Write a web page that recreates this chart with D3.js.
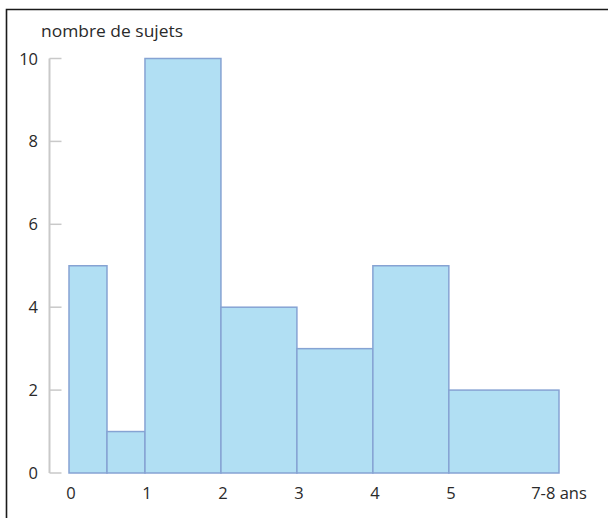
<!DOCTYPE html>
<html>
<head>
<meta charset="utf-8">
<script src="https://cdn.jsdelivr.net/npm/d3@7"></script>
<style>
  body { margin: 0; background: #fff; }
  svg { display: block; font-family: "Open Sans", "DejaVu Sans", sans-serif; }
</style>
</head>
<body>
<div id="chart"></div>
<script>
// histogram: number of subjects per age bin (years)
const binStarts = [0, 0.5, 1, 2, 3, 4, 5];
const binEnds = [0.5, 1, 2, 3, 4, 5, 6.45];
const counts = [5, 1, 10, 4, 3, 5, 2];
const xTicks = [0, 1, 2, 3, 4, 5, 6.45];
const xTickLabels = ['0', '1', '2', '3', '4', '5', '7-8 ans'];
const yTicks = [0, 2, 4, 6, 8, 10];
const yTitle = 'nombre de sujets';

const width = 608, height = 518;
const svg = d3.select('#chart').append('svg').attr('width', width).attr('height', height);

// frame (only top and left edges are visible in the crop)
svg.append('path')
  .attr('d', `M${width + 5},9.5 H6.5 V${height + 5}`)
  .attr('fill', 'none').attr('stroke', '#1a1a1a').attr('stroke-width', 1.6);

const x = d3.scaleLinear().domain([0, 6.45]).range([69, 559]);
const y = d3.scaleLinear().domain([0, 10]).range([473, 58.5]);

const bins = counts.map((c, i) => ({ x0: binStarts[i], x1: binEnds[i], n: c }));

// y axis: gray line with right-pointing ticks
const yAxis = svg.append('g').attr('transform', 'translate(49.5,0)');
yAxis.append('line')
  .attr('y1', y(10)).attr('y2', y(0))
  .attr('stroke', '#c9c9c9').attr('stroke-width', 2);
yAxis.selectAll('line.tick').data(yTicks).join('line')
  .attr('class', 'tick')
  .attr('x1', 0).attr('x2', 12)
  .attr('y1', d => y(d)).attr('y2', d => y(d))
  .attr('stroke', '#c9c9c9').attr('stroke-width', 1.5);
svg.selectAll('text.ylab').data(yTicks).join('text')
  .attr('class', 'ylab')
  .attr('x', 38).attr('y', d => y(d) + 6)
  .attr('text-anchor', 'end')
  .attr('font-size', 16.5).attr('fill', '#2a2a2a')
  .text(d => d);

svg.append('text')
  .attr('x', 41).attr('y', 37)
  .attr('font-size', 16.5).attr('fill', '#2a2a2a')
  .attr('textLength', 142).attr('lengthAdjust', 'spacingAndGlyphs')
  .text(yTitle);

// bars
svg.selectAll('rect.bar').data(bins).join('rect')
  .attr('class', 'bar')
  .attr('x', d => x(d.x0)).attr('width', d => x(d.x1) - x(d.x0))
  .attr('y', d => y(d.n)).attr('height', d => y(0) - y(d.n))
  .attr('fill', '#b1dff3')
  .attr('stroke', '#86a3d3').attr('stroke-width', 1.5);

// x tick labels
svg.selectAll('text.xlab').data(xTicks).join('text')
  .attr('class', 'xlab')
  .attr('x', (d, i) => x(d) + (i === xTicks.length - 1 ? 0 : 2))
  .attr('y', 499)
  .attr('text-anchor', 'middle')
  .attr('font-size', 16.5).attr('fill', '#2a2a2a')
  .text((d, i) => xTickLabels[i]);
</script>
</body>
</html>
